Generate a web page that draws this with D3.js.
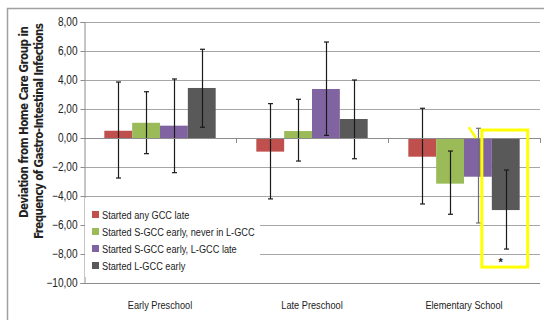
<!DOCTYPE html>
<html>
<head>
<meta charset="utf-8">
<script src="https://cdn.jsdelivr.net/npm/d3@7"></script>
<style>
  body { margin: 0; background: #fff; }
  svg { display: block; }
  text { font-family: "Liberation Sans", Arial, sans-serif; fill: #222; }
</style>
</head>
<body>
<svg id="chart" width="544" height="320"></svg>
<script>
// chart values
var categories = ["Early Preschool", "Late Preschool", "Elementary School"];
var seriesNames = [
  "Started any GCC late",
  "Started S-GCC early, never in L-GCC",
  "Started S-GCC early, L-GCC late",
  "Started L-GCC early"
];
var seriesColors = ["#c0504d", "#9bbb59", "#8064a2", "#595959"];

var anyLate      = [0.50, -0.94, -1.29];
var sEarlyNever  = [1.05,  0.48, -3.15];
var sEarlyLLate  = [0.85,  3.38, -2.67];
var lEarly       = [3.45,  1.31, -4.97];

var errHigh = [
  [3.86, 2.37, 2.05],
  [3.19, 2.67, -0.90],
  [4.07, 6.62, 0.67],
  [6.12, 4.00, -2.21]
];
var errLow = [
  [-2.76, -4.20, -4.55],
  [-1.08, -1.59, -5.26],
  [-2.39, 0.18, -5.86],
  [0.74, -1.43, -7.66]
];

var yTicks = [8, 6, 4, 2, 0, -2, -4, -6, -8, -10];

var allValues = [anyLate, sEarlyNever, sEarlyLLate, lEarly];

var svg = d3.select("#chart");
var plotLeft = 84, plotRight = 540, plotTop = 22, plotBottom = 283;
var squeeze = 0.84;   // tick labels: narrow like the original's condensed font
var squeeze2 = 0.8;   // legend + category labels

// outer frame
svg.append("rect")
  .attr("x", 7.5).attr("y", 8.5)
  .attr("width", 600).attr("height", 400)
  .attr("fill", "#fff").attr("stroke", "#a0a0a0").attr("stroke-width", 1.5);

var y = d3.scaleLinear().domain([-10, 8]).range([plotBottom, plotTop]);
var x0 = d3.scaleBand().domain(categories).range([plotLeft, plotRight]).padding(0);
var x1 = d3.scaleBand().domain(d3.range(4)).range([0, x0.bandwidth()])
  .paddingInner(0).paddingOuter(0.73);

// grid
svg.append("g").selectAll("line")
  .data(yTicks.filter(function(d) { return d !== 0 && d !== -10; }))
  .enter().append("line")
  .attr("x1", plotLeft).attr("x2", plotRight)
  .attr("y1", function(d) { return Math.round(y(d)) + 0.5; })
  .attr("y2", function(d) { return Math.round(y(d)) + 0.5; })
  .attr("stroke", "#a6a6a6").attr("stroke-width", 1);

// y axis
var yAxis = d3.axisLeft(y).tickValues(yTicks).tickSize(4)
  .tickFormat(function(d) { return d3.format(".2f")(d).replace(".", ","); });
var yg = svg.append("g").attr("transform", "translate(" + (plotLeft + 0.5) + ",0)").call(yAxis);
yg.select(".domain").attr("stroke", "#8c8c8c");
yg.selectAll(".tick line").attr("stroke", "#8c8c8c");
yg.selectAll(".tick text")
  .attr("x", -7 / squeeze)
  .attr("transform", "scale(" + squeeze + ",1)")
  .style("font-size", "12px")
  .style("font-family", "\"Liberation Sans\", Arial, sans-serif")
  .attr("fill", "#222");

// bottom line at -10
svg.append("line")
  .attr("x1", plotLeft).attr("x2", plotRight)
  .attr("y1", Math.round(y(-10)) + 0.5).attr("y2", Math.round(y(-10)) + 0.5)
  .attr("stroke", "#8c8c8c");

// bars
var groups = svg.append("g").selectAll("g")
  .data(categories).enter().append("g")
  .attr("transform", function(d) { return "translate(" + x0(d) + ",0)"; });

groups.selectAll("rect")
  .data(function(c, i) { return allValues.map(function(s, k) { return { k: k, v: s[i] }; }); })
  .enter().append("rect")
  .attr("x", function(d) { return x1(d.k); })
  .attr("width", x1.bandwidth())
  .attr("y", function(d) { return y(Math.max(0, d.v)); })
  .attr("height", function(d) { return Math.abs(y(d.v) - y(0)); })
  .attr("fill", function(d) { return seriesColors[d.k]; });

// zero axis with category tick marks
svg.append("line")
  .attr("x1", plotLeft).attr("x2", plotRight)
  .attr("y1", Math.round(y(0)) + 0.5).attr("y2", Math.round(y(0)) + 0.5)
  .attr("stroke", "#8c8c8c");
svg.append("g").selectAll("line")
  .data(categories).enter().append("line")
  .attr("x1", function(d) { return Math.round(x0(d) + x0.bandwidth()) + 0.5; })
  .attr("x2", function(d) { return Math.round(x0(d) + x0.bandwidth()) + 0.5; })
  .attr("y1", y(0)).attr("y2", y(0) + 5)
  .attr("stroke", "#8c8c8c");

// error bars
groups.each(function(c, i) {
  var g = d3.select(this);
  for (var k = 0; k < 4; k++) {
    var cx = Math.round(x1(k) + x1.bandwidth() / 2) + 0.5;
    var hi = y(errHigh[k][i]), lo = y(errLow[k][i]);
    var col = (k === 2 && i === 2) ? "#6e6e6e" : "#1a1a1a";
    g.append("line").attr("x1", cx).attr("x2", cx).attr("y1", hi).attr("y2", lo)
      .attr("stroke", col).attr("stroke-width", 1.2);
    [hi, lo].forEach(function(yy) {
      g.append("line").attr("x1", cx - 2.5).attr("x2", cx + 2.5)
        .attr("y1", yy).attr("y2", yy)
        .attr("stroke", col).attr("stroke-width", 1.2);
    });
  }
});

// category labels
svg.append("g").selectAll("text")
  .data(categories).enter().append("text")
  .attr("transform", function(d) {
    return "translate(" + (x0(d) + x0.bandwidth() / 2) + ",309) scale(" + squeeze2 + ",1)";
  })
  .attr("text-anchor", "middle")
  .style("font-size", "11.5px")
  .text(function(d) { return d; });

// legend
var lg = svg.append("g");
lg.append("rect").attr("x", plotLeft + 1).attr("y", 198).attr("width", 175).attr("height", 79).attr("fill", "#fff");
var items = lg.selectAll("g").data(seriesNames).enter().append("g")
  .attr("transform", function(d, i) { return "translate(92," + (215 + i * 17) + ")"; });
items.append("rect").attr("x", 0).attr("y", -4).attr("width", 7).attr("height", 7)
  .attr("fill", function(d, i) { return seriesColors[i]; });
items.append("text")
  .attr("transform", "translate(10,4) scale(" + squeeze2 + ",1)")
  .style("font-size", "11.5px")
  .text(function(d) { return d; });

// y axis title
var title = svg.append("g").attr("transform", "rotate(-90)");
title.append("text")
  .attr("x", -122).attr("y", 28)
  .attr("text-anchor", "middle")
  .attr("textLength", 192).attr("lengthAdjust", "spacing")
  .style("font-size", "11.5px").style("font-weight", "bold")
  .style("font-family", "\"DejaVu Sans Condensed\", \"Liberation Sans\", sans-serif")
  .text("Deviation from Home Care Group in");
title.append("text")
  .attr("x", -131).attr("y", 43)
  .attr("text-anchor", "middle")
  .attr("textLength", 216).attr("lengthAdjust", "spacing")
  .style("font-size", "11.5px").style("font-weight", "bold")
  .style("font-family", "\"DejaVu Sans Condensed\", \"Liberation Sans\", sans-serif")
  .text("Frequency of Gastro-Intestinal Infections");

// highlight of the significant result
var hx = x0("Elementary School") + x1(3);
svg.append("rect")
  .attr("x", hx - 10).attr("y", y(0.55))
  .attr("width", x1.bandwidth() + 18).attr("height", y(-8.9) - y(0.55))
  .attr("fill", "none").attr("stroke", "#ffff00").attr("stroke-width", 3);
svg.append("line")
  .attr("x1", hx - 23).attr("y1", y(0.75))
  .attr("x2", hx - 16).attr("y2", y(0))
  .attr("stroke", "#ffff00").attr("stroke-width", 2.5);
svg.append("text")
  .attr("x", hx + x1.bandwidth() / 2 - 5).attr("y", y(-8.45) + 5)
  .attr("text-anchor", "middle")
  .style("font-size", "11px").style("font-weight", "bold")
  .text("*");
</script>
</body>
</html>
